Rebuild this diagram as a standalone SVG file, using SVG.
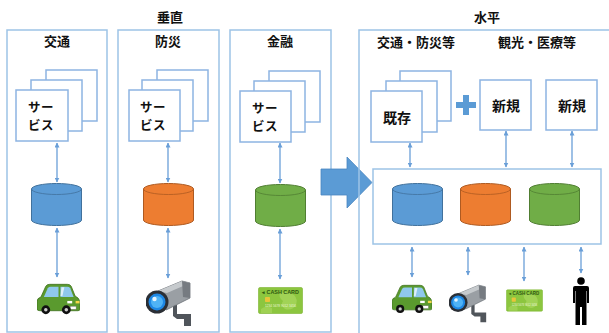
<svg xmlns="http://www.w3.org/2000/svg" width="609" height="333" viewBox="0 0 609 333">
  <style>
    .panel { fill: none; stroke: #9dc3e6; stroke-width: 1.5; }
    .box { fill: #ffffff; stroke: #8db4e2; stroke-width: 1.5; }
    .title { font-family: "Noto Sans CJK JP", "Noto Sans", sans-serif; font-weight: bold; font-size: 13px; fill: #111; text-anchor: middle; }
    .label { font-family: "Noto Sans CJK JP", "Noto Sans", sans-serif; font-weight: bold; font-size: 14px; fill: #111; }
    .svc { font-family: "Noto Sans CJK JP", "Noto Sans", sans-serif; font-weight: bold; font-size: 12.5px; letter-spacing: 0.5px; fill: #111; }
    .link { stroke: #6a9fd8; stroke-width: 1.3; fill: none; marker-start: url(#tip); marker-end: url(#tip); }
  </style>
  <defs>
    <marker id="tip" viewBox="0 0 10 10" refX="9" refY="5" markerWidth="5" markerHeight="5" orient="auto-start-reverse" markerUnits="userSpaceOnUse">
      <path d="M0,0 L10,5 L0,10 z" fill="#6a9fd8"/>
    </marker>
    <!-- database cylinder, 51 x 43 -->
    <symbol id="cyl" viewBox="0 0 51 43" overflow="visible">
      <path d="M0.5,6 A25,5.5 0 0 1 50.5,6 L50.5,37 A25,5.5 0 0 1 0.5,37 Z" fill="inherit" stroke="inherit" stroke-width="1"/>
      <path d="M0.5,6 A25,5.5 0 0 0 50.5,6" fill="none" stroke="inherit" stroke-width="1" opacity="0.8"/>
    </symbol>
    <!-- car icon -->
    <symbol id="car" viewBox="0 0 44 33">
      <path d="M4,15 L9,4 Q10,2 13,2 L31,2 Q34,2 35,4 L39,14 L42,16 Q44,18 44,22 L44,27 Q44,29 42,29 L3,29 Q0,29 0,27 L0,20 Q0,16 4,15 Z" fill="#5a9a2e" stroke="#3d6e1c" stroke-width="0.8"/>
      <path d="M7,15 L11,6 Q12,4.5 14,4.5 L22,4.5 L22,15 Z" fill="#8fc8ec"/>
      <path d="M24,4.5 L31,4.5 Q33,4.5 34,6 L37.5,15 L24,15 Z" fill="#8fc8ec"/>
      <path d="M25,5 L28,5 L26,14 L24,14 Z" fill="#ffffff" opacity="0.7"/>
      <rect x="31" y="19" width="5" height="2.5" fill="#ffffff"/>
      <rect x="39.5" y="19" width="4" height="2.5" fill="#f5d64a"/>
      <rect x="34" y="24.5" width="6" height="3" fill="#ffffff" stroke="#777" stroke-width="0.4"/>
      <circle cx="9" cy="28" r="4.5" fill="#111"/>
      <circle cx="9" cy="28" r="1.8" fill="#ccc"/>
      <circle cx="30" cy="28" r="4.5" fill="#111"/>
      <circle cx="30" cy="28" r="1.8" fill="#ccc"/>
    </symbol>
    <!-- security camera icon -->
    <symbol id="cam" viewBox="0 0 46 48">
      <!-- wall bracket -->
      <path d="M27,27 L31,27 L31,36 L45,36 L45,48 L38,48 L38,41 L31,41 L27,38 Z" fill="#50555b"/>
      <!-- housing -->
      <path d="M12,13 L36,3 L44,5 L44,20 L20,32 Z" fill="#9a9fa4" stroke="#6b7076" stroke-width="0.8"/>
      <path d="M12,13 L36,3 L44,5 L21,15 Z" fill="#c6cacd"/>
      <path d="M36,3 L44,5 L44,20 L37,19 Z" fill="#767b81"/>
      <!-- lens -->
      <circle cx="11" cy="24" r="11.5" fill="#2b2f35"/>
      <circle cx="11" cy="24" r="8.5" fill="#1e88e5"/>
      <circle cx="11" cy="24" r="6" fill="#4fb3f6"/>
      <circle cx="8.5" cy="21" r="2.2" fill="#ffffff" opacity="0.85"/>
    </symbol>
    <!-- cash card icon -->
    <symbol id="card" viewBox="0 0 45 27">
      <rect x="0.5" y="0.5" width="44" height="26" rx="1.5" fill="#8cc63f" stroke="#7ab32e" stroke-width="0.6"/>
      <path d="M22,6 Q30,3 36,8 Q40,12 38,18 Q34,24 27,22 Q22,18 25,14 Q20,10 22,6 Z" fill="#a6d65c" opacity="0.8"/>
      <path d="M3,22 Q8,18 14,21 L14,26 L3,26 Z" fill="#a6d65c" opacity="0.7"/>
      <text x="4" y="6.8" font-family="Liberation Sans, sans-serif" font-size="5.4" font-weight="bold" fill="#2f5a12">◂ CASH CARD</text>
      <rect x="7" y="10" width="5" height="5" rx="0.8" fill="#e8c43a"/>
      <text x="7" y="20" font-family="Liberation Sans, sans-serif" font-size="3.2" fill="#eaf5d8">1234 5678 9012 3456</text>
    </symbol>
    <!-- person icon -->
    <symbol id="person" viewBox="0 0 18 48">
      <circle cx="9" cy="4" r="3.8" fill="#000"/>
      <path d="M3,9 L15,9 Q17,9 17,11 L17,26 L15,26 L15,14 L14.5,14 L14.5,48 L10,48 L10,30 L8,30 L8,48 L3.5,48 L3.5,14 L3,14 L3,26 L1,26 L1,11 Q1,9 3,9 Z" fill="#000"/>
    </symbol>
  </defs>

  <rect width="609" height="333" fill="#ffffff"/>

  <!-- section titles -->
  <text class="title" x="170" y="22">垂直</text>
  <text class="title" x="487" y="22">水平</text>

  <!-- vertical: transport -->
  <g id="panel-transport">
    <rect class="panel" x="7" y="30" width="100" height="302"/>
    <text class="title" x="57" y="46">交通</text>
    <rect class="box" x="46" y="70" width="51" height="51"/>
    <rect class="box" x="31" y="80" width="51" height="51"/>
    <rect class="box" x="16" y="90" width="52" height="51"/>
    <text class="svc" x="28" y="112">サー<tspan x="28" dy="18.2">ビス</tspan></text>
    <use href="#cyl" x="31" y="183" width="51" height="43" fill="#5b9bd5" stroke="#41719c"/>
    <use href="#car" x="37" y="282" width="43" height="33"/>
  </g>

  <!-- vertical: disaster prevention -->
  <g id="panel-disaster">
    <rect class="panel" x="118" y="30" width="101" height="302"/>
    <text class="title" x="168" y="46">防災</text>
    <rect class="box" x="157" y="70" width="51" height="51"/>
    <rect class="box" x="142" y="80" width="51" height="51"/>
    <rect class="box" x="129" y="90" width="51" height="51"/>
    <text class="svc" x="140" y="112">サー<tspan x="140" dy="18.2">ビス</tspan></text>
    <use href="#cyl" x="143" y="183" width="51" height="43" fill="#ed7d31" stroke="#ae5a21"/>
    <use href="#cam" x="146" y="278" width="46" height="48"/>
  </g>

  <!-- vertical: finance -->
  <g id="panel-finance">
    <rect class="panel" x="230" y="30" width="101" height="302"/>
    <text class="title" x="280" y="46">金融</text>
    <rect class="box" x="269" y="71" width="51" height="51"/>
    <rect class="box" x="254" y="81" width="51" height="51"/>
    <rect class="box" x="240" y="91" width="51" height="51"/>
    <text class="svc" x="252" y="113">サー<tspan x="252" dy="18.2">ビス</tspan></text>
    <use href="#cyl" x="255" y="184" width="51" height="43" fill="#70ad47" stroke="#507e32"/>
    <use href="#card" x="258" y="287" width="45" height="27"/>
  </g>

  <!-- transition arrow -->
  <g id="shift-arrow">
    <path d="M321,169 L347,169 L347,157 L372,182.5 L347,208 L347,195 L321,195 Z" fill="#5b9bd5" stroke="#4a86c0" stroke-width="0.8"/>
  </g>

  <!-- horizontal platform -->
  <g id="panel-horizontal">
    <rect class="panel" x="359" y="30" width="270" height="320"/>
    <text class="title" x="416" y="47">交通・防災等</text>
    <text class="title" x="537" y="47">観光・医療等</text>
  </g>
  <g id="existing-services">
    <rect class="box" x="400" y="71" width="51" height="50"/>
    <rect class="box" x="386" y="81" width="51" height="51"/>
    <rect class="box" x="371" y="91" width="51" height="51"/>
    <text class="label" x="397" y="123" text-anchor="middle">既存</text>
  </g>
  <g id="plus">
    <path d="M463,95 L469,95 L469,102 L476,102 L476,108 L469,108 L469,115 L463,115 L463,108 L456,108 L456,102 L463,102 Z" fill="#5b9bd5"/>
  </g>
  <g id="new-service-1">
    <rect class="box" x="480" y="80" width="51" height="50"/>
    <text class="label" x="506" y="111" text-anchor="middle">新規</text>
  </g>
  <g id="new-service-2">
    <rect class="box" x="546" y="80" width="51" height="50"/>
    <text class="label" x="572" y="111" text-anchor="middle">新規</text>
  </g>
  <g id="shared-data">
    <rect class="panel" x="373" y="169" width="228" height="75"/>
    <use href="#cyl" x="392" y="183" width="51" height="43" fill="#5b9bd5" stroke="#41719c"/>
    <use href="#cyl" x="460" y="183" width="51" height="43" fill="#ed7d31" stroke="#ae5a21"/>
    <use href="#cyl" x="529" y="183" width="51" height="43" fill="#70ad47" stroke="#507e32"/>
  </g>
  <g id="devices">
    <use href="#car" x="392" y="283" width="40" height="31"/>
    <use href="#cam" x="449" y="280" width="38" height="45"/>
    <use href="#card" x="506" y="287" width="37" height="27"/>
    <use href="#person" x="572" y="277" width="18" height="48"/>
  </g>

  <!-- connectors -->
  <g id="connectors">
    <line class="link" x1="57" y1="143" x2="57" y2="182"/>
    <line class="link" x1="57" y1="228" x2="57" y2="277"/>
    <line class="link" x1="168" y1="143" x2="168" y2="182"/>
    <line class="link" x1="168" y1="228" x2="168" y2="278"/>
    <line class="link" x1="280" y1="143" x2="280" y2="183"/>
    <line class="link" x1="280" y1="229" x2="280" y2="279"/>
    <line class="link" x1="410" y1="143" x2="410" y2="167"/>
    <line class="link" x1="506" y1="131" x2="506" y2="167"/>
    <line class="link" x1="572" y1="131" x2="572" y2="167"/>
    <line class="link" x1="412" y1="247" x2="412" y2="277"/>
    <line class="link" x1="468" y1="247" x2="468" y2="275"/>
    <line class="link" x1="524" y1="247" x2="524" y2="281"/>
    <line class="link" x1="581" y1="247" x2="581" y2="273"/>
  </g>
</svg>
